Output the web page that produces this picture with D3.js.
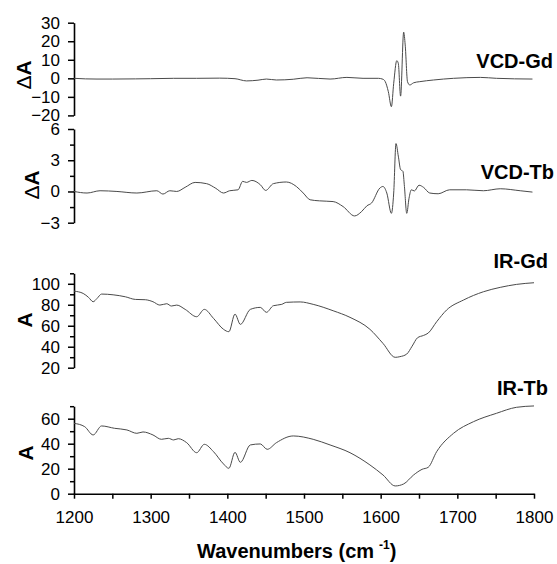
<!DOCTYPE html>
<html><head><meta charset="utf-8">
<script src="https://cdn.jsdelivr.net/npm/d3@7"></script>
<style>
html,body{margin:0;padding:0;background:#fff;}
svg{display:block;}
text{font-family:Arial,"Liberation Sans",sans-serif;fill:#000;}
</style></head>
<body>
<svg id="chart" width="557" height="564"></svg>
<script>
// ---- data (wavenumber cm^-1, value) ----
const vcdGd = [[1200,0],[1215,-0.3],[1230,-0.4],[1250,-0.4],[1280,-0.3],[1300,-0.2],[1330,0],[1360,0],[1390,0.1],[1410,-0.2],[1425,-1.4],[1440,-1.0],[1451,-0.4],[1464,-0.9],[1475,-0.8],[1486,-0.5],[1504,0.3],[1534,-0.4],[1556,0.5],[1577,0],[1597,0],[1603,-0.5],[1606,-1.8],[1610,-7.2],[1614,-15.3],[1617,-2.7],[1621,9.5],[1623,8.1],[1626,-9.6],[1630,24.9],[1632,18],[1635,-1.8],[1638,-3.6],[1643,-2.4],[1651,-1.8],[1669,-0.9],[1695,0],[1730,0.5],[1751,0],[1798,-0.4]];
const vcdTb = [[1200,0],[1217,-0.15],[1234,0.07],[1256,0],[1282,-0.15],[1308,0.07],[1316,-0.25],[1325,0.07],[1334,0],[1345,0.4],[1358,0.87],[1373,0.75],[1385,0.3],[1395,-0.15],[1403,0.07],[1414,0.16],[1420,0.97],[1425,0.87],[1432,1.06],[1443,0.65],[1450,0.1],[1460,0.75],[1477,0.91],[1490,0.48],[1499,-0.15],[1508,-0.8],[1520,-0.9],[1538,-0.97],[1551,-1.45],[1566,-2.35],[1575,-1.94],[1582,-1.38],[1588,-1.12],[1599,0.33],[1603,0.48],[1608,-0.15],[1614,-2.1],[1617,-0.15],[1620,4.6],[1623,3.4],[1626,2.1],[1629,1.94],[1631,0.48],[1634,-2.1],[1637,-0.65],[1640,0.16],[1644,0.05],[1650,0.6],[1656,0.39],[1664,-0.15],[1675,-0.22],[1690,0.16],[1712,0.16],[1734,0.07],[1756,0.26],[1782,0.07],[1798,-0.06]];
const irGd = [[1200,93.0],[1212,90.8],[1219,87],[1225,82.9],[1230,86],[1236,90.2],[1251,89.5],[1267,87.6],[1280,85.1],[1293,84.8],[1303,82.9],[1312,79.7],[1321,81.0],[1327,78.8],[1334,79.7],[1345,75.6],[1360,68.6],[1370,75.6],[1382,67.0],[1395,56.6],[1402,54.3],[1410,71.1],[1417,61.3],[1430,75.6],[1443,77.5],[1451,72.8],[1460,79.1],[1471,80.4],[1477,82.3],[1495,82.7],[1512,80.4],[1538,74.3],[1560,68.0],[1586,56.6],[1603,43.2],[1619,29.9],[1625,30.5],[1634,33.0],[1641,40.5],[1648,48.5],[1656,50.8],[1662,53],[1673,63.8],[1686,75.0],[1708,84.5],[1734,92.4],[1756,96.6],[1777,99.4],[1800,101.0]];
const irTb = [[1200,56.3],[1214,53.6],[1225,47.0],[1236,54.2],[1253,52.3],[1269,51.0],[1282,48.3],[1290,49.4],[1303,47.0],[1314,43.5],[1323,44.3],[1330,43.0],[1336,44.0],[1347,40.8],[1360,32.8],[1370,39.5],[1382,33.6],[1395,23.8],[1402,20.3],[1410,33.1],[1417,25.1],[1430,39.0],[1443,39.8],[1452,35.5],[1464,40.8],[1486,46.2],[1512,43.5],[1534,39.0],[1560,32.8],[1586,23.0],[1603,15.0],[1619,6.2],[1630,7.8],[1643,15.0],[1654,19.5],[1662,21.1],[1673,33.6],[1695,48.3],[1721,57.6],[1751,64.3],[1777,69.1],[1800,70.2]];

const seriesNames = ["VCD-Gd","VCD-Tb","IR-Gd","IR-Tb"];
const yTitles = ["ΔA","ΔA","A","A"];
const yDomains = [[-20,30],[-3,6],[20,110],[0,70]];
const yTickValues = [[-20,-10,0,10,20,30],[-3,-1.5,0,1.5,3,4.5,6],[20,30,40,50,60,70,80,90,100,110],[0,10,20,30,40,50,60,70]];
const yLabelValues = [[-20,-10,0,10,20,30],[-3,0,3,6],[20,40,60,80,100],[0,20,40,60]];
const xDomain = [1200,1800];
const xTickValues = [1200,1250,1300,1350,1400,1450,1500,1550,1600,1650,1700,1750,1800];
const xLabelValues = [1200,1300,1400,1500,1600,1700,1800];
const xTitle = "Wavenumbers (cm";

// ---- layout ----
const svg = d3.select("#chart");
const x = d3.scaleLinear().domain(xDomain).range([74,534]);
const panels = [
  {range:[115.4,22.7], titleX:23, titleY:75, label:[553,68]},
  {range:[222.7,129], titleX:31, titleY:185, label:[554,179]},
  {range:[367.7,273.3], titleX:24, titleY:320, label:[548,268]},
  {range:[493.7,406.2], titleX:25.5, titleY:453, label:[548,395]}
];
const data = [vcdGd, vcdTb, irGd, irTb];

panels.forEach((p,i)=>{
  const y = d3.scaleLinear().domain(yDomains[i]).range(p.range);
  const labs = new Set(yLabelValues[i]);
  const ax = d3.axisLeft(y).tickValues(yTickValues[i]).tickSizeOuter(0).tickSizeInner(6).tickPadding(8)
    .tickFormat(d=> labs.has(d) ? d3.format("d")(d) : "");
  const g = svg.append("g").attr("transform","translate(74,0)").call(ax);
  g.select(".domain").attr("stroke","#000").attr("stroke-width",1.6);
  g.selectAll(".tick line").attr("stroke","#000").attr("stroke-width",1.5)
    .attr("x2", d=> labs.has(d) ? -6 : -4);
  g.selectAll(".tick text").attr("font-size",17).attr("font-family","Arial, 'Liberation Sans', sans-serif").attr("fill","#000");

  const line = d3.line().x(d=>x(d[0])).y(d=>y(d[1])).curve(d3.curveMonotoneX);
  svg.append("path").datum(data[i]).attr("d",line)
    .attr("fill","none").attr("stroke","#4a4a4a").attr("stroke-width",1);

  // y title
  const t = svg.append("text")
    .attr("transform",`translate(${p.titleX},${p.titleY}) rotate(-90)`)
    .attr("text-anchor","middle").attr("dy","0.36em")
    .attr("font-size",21);
  if (yTitles[i].startsWith("Δ")) {
    t.append("tspan").attr("font-weight","normal").text("Δ");
    t.append("tspan").attr("font-weight","bold").text("A");
  } else {
    t.attr("font-weight","bold").text(yTitles[i]);
  }

  // series label
  svg.append("text").attr("x",p.label[0]).attr("y",p.label[1])
    .attr("text-anchor","end").attr("font-size",20).attr("font-weight","bold")
    .text(seriesNames[i]);

  if (i===3) {
    const xl = new Set(xLabelValues);
    const xa = d3.axisBottom(x).tickValues(xTickValues).tickSizeOuter(0).tickSizeInner(5).tickPadding(12)
      .tickFormat(d=> xl.has(d) ? String(d) : "");
    const gx = svg.append("g").attr("transform","translate(0,493.7)").call(xa);
    gx.select(".domain").attr("stroke","#000").attr("stroke-width",1.6);
    gx.selectAll(".tick line").attr("stroke","#000").attr("stroke-width",1.5);
    gx.selectAll(".tick text").attr("font-size",17).attr("font-family","Arial, 'Liberation Sans', sans-serif").attr("fill","#000");
  }
});

// x title
const xt = svg.append("text").attr("x",197).attr("y",558)
  .attr("font-size",20).attr("font-weight","bold");
xt.append("tspan").text(xTitle);
xt.append("tspan").attr("font-size",12).attr("dx",5).attr("dy",-9).text("-1");
xt.append("tspan").attr("dy",9).text(")");
</script>
</body></html>
